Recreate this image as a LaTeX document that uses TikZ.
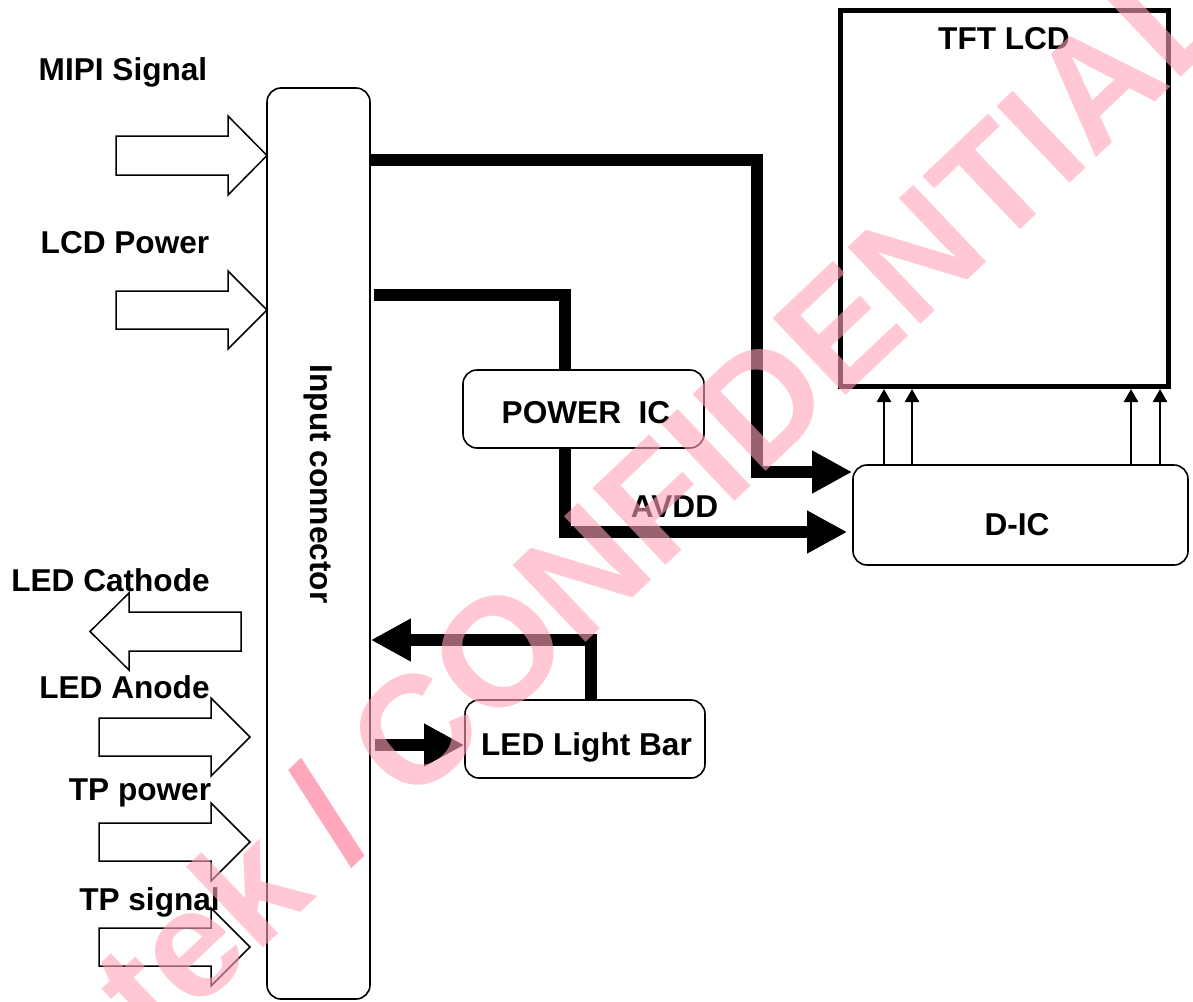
\documentclass[tikz,border=0pt]{standalone}
\usepackage{fontspec}
\setmainfont{Liberation Sans}
\usetikzlibrary{arrows.meta}
\definecolor{wm}{RGB}{255,163,183}
\definecolor{wmdark}{RGB}{255,110,145}
\begin{document}
\begin{tikzpicture}[x=1pt,y=-1pt,
  lbl/.style={font=\fontsize{31.6}{36}\selectfont\bfseries, inner sep=0pt, anchor=base},
  box/.style={draw, line width=1.6pt, rounded corners=14pt, fill=white, inner sep=0pt},
  blockarrow/.style={draw, line width=1.5pt, fill=white, line join=miter},
  thickwire/.style={line width=12.5pt, line join=miter},
  bigtip/.style={-{Triangle[length=40pt 0 0,width=40pt 0 0]}},
  smalltip/.style={line width=2.5pt, -{Triangle[length=13pt 0 0,width=14pt 0 0]}},
]
\useasboundingbox (0,0) rectangle (1193,1001);

% boxes
\node[box, minimum width=103pt, minimum height=911pt] (conn) at (318.5,543.5) {};
\node[font=\fontsize{31.6}{36}\selectfont\bfseries, inner sep=0pt, rotate=-90] (conntxt) at (318,484) {Input connector};
\node[box, minimum width=241pt, minimum height=78pt] (pic) at (583.5,409) {};
\node[box, minimum width=240pt, minimum height=78pt] (lbar) at (585,739) {};
\node[box, minimum width=335pt, minimum height=100pt] (dic) at (1020.5,515) {};
\node[draw, line width=5pt, minimum width=328pt, minimum height=376pt, inner sep=0pt] (tft) at (1004.5,198.5) {};

% labels
\node[lbl] (tmipi) at (123,80) {MIPI Signal};
\node[lbl] (tlcdp) at (125,253) {LCD Power};
\node[lbl] (tcath) at (110.5,591) {LED Cathode};
\node[lbl] (tanode) at (124.5,698) {LED Anode};
\node[lbl] (ttpp) at (140,800) {TP power};
\node[lbl] (ttps) at (149.5,910) {TP signal};
\node[lbl] (tpic) at (586,423) {POWER\ \ IC};
\node[lbl] (tavdd) at (674.5,517) {AVDD};
\node[lbl] (tdic) at (1017,535) {D-IC};
\node[lbl] (ttft) at (1004,49) {TFT LCD};
\node[lbl] (tlbar) at (586.5,755) {LED Light Bar};

% hollow block arrows
\draw[blockarrow] (116,136) -- (228,136) -- (228,116) -- (267,155.5) -- (228,195) -- (228,175) -- (116,175) -- cycle;
\draw[blockarrow] (116,291) -- (228,291) -- (228,271) -- (267,310) -- (228,349) -- (228,329) -- (116,329) -- cycle;
\draw[blockarrow] (241,612) -- (129,612) -- (129,593) -- (90,631.5) -- (129,670) -- (129,651) -- (241,651) -- cycle;
\draw[blockarrow] (99,718) -- (211,718) -- (211,698) -- (250,737) -- (211,776) -- (211,756) -- (99,756) -- cycle;
\draw[blockarrow] (99,823) -- (211,823) -- (211,803) -- (250,842) -- (211,881) -- (211,861) -- (99,861) -- cycle;
\draw[blockarrow] (99,928) -- (211,928) -- (211,908) -- (250,947) -- (211,986) -- (211,966) -- (99,966) -- cycle;

% thick wires
\draw[thickwire, bigtip] (conn.east |- 0,160) -- (757,160) -- (757,472) -- (dic.west |- 0,472);
\coordinate (pin) at (565,295);
\draw[thickwire, shorten <=3pt] (conn.east |- pin) -- (pin) -- (pin |- pic.north);
\draw[thickwire, bigtip, shorten >=5pt] (pin |- pic.south) -- (565,532) -- (dic.west |- 0,532);
\draw[thickwire, bigtip] (lbar.north -| 591,0) -- (591,640) -- (conn.east |- 0,640);
\draw[thickwire, bigtip, shorten <=4pt] (conn.east |- 0,745) -- (lbar.west |- 0,745);

% small arrows D-IC -> TFT
\foreach \xx in {884,912,1131,1160}
  \draw[smalltip] (dic.north -| \xx,0) -- (tft.south -| \xx,0);

% watermark
\begin{scope}
\clip (0,0) rectangle (1193,1001);
\node[font=\fontsize{154}{154}\selectfont\bfseries, text=wm, text opacity=0.6, rotate=43.5, anchor=base west, inner sep=0pt] (wmark) at (156,1050) {tek \textcolor{wmdark}{/} CONFIDENTIAL};
\end{scope}
\end{tikzpicture}
\end{document}
